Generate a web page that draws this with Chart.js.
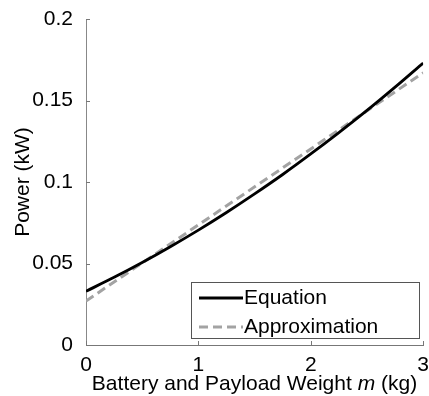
<!DOCTYPE html>
<html>
<head>
<meta charset="utf-8">
<script src="https://cdn.jsdelivr.net/npm/chart.js@4"></script>
<style>
  body { margin: 0; background: #fff; }
  #wrap { width: 429px; height: 396px; }
</style>
</head>
<body>
<div id="wrap"><canvas id="c"></canvas></div>
<script>
const pesos = [0, 0.25, 0.5, 0.75, 1, 1.25, 1.5, 1.75, 2, 2.25, 2.5, 2.75, 3];
const potenciaEcuacion = [0.0330, 0.0415, 0.0506, 0.0603, 0.0705, 0.0813, 0.0927, 0.1046, 0.1172, 0.1303, 0.1439, 0.1582, 0.1730];
const pesosAprox = [0, 1, 2, 3];
const potenciaAprox = [0.0270, 0.0737, 0.1203, 0.1670];
const ticksX = [0, 1, 2, 3];
const ticksY = [0, 0.05, 0.1, 0.15, 0.2];
const etiquetasY = ["0", "0.05", "0.1", "0.15", "0.2"];

const fuente = "'Liberation Sans', Arial, sans-serif";

// ticks hacia dentro, titulo del eje x con m en cursiva y leyenda en caja
const extras = {
  id: "extras",
  afterDraw(chart) {
    const ctx = chart.ctx;
    const x = chart.scales.x, y = chart.scales.y;
    const a = chart.chartArea;
    ctx.save();
    ctx.strokeStyle = "#777";
    ctx.lineWidth = 1;
    ticksX.forEach(v => {
      const px = Math.round(x.getPixelForValue(v)) + 0.5;
      ctx.beginPath(); ctx.moveTo(px, a.bottom); ctx.lineTo(px, a.bottom - 4); ctx.stroke();
    });
    ticksY.forEach(v => {
      const py = Math.round(y.getPixelForValue(v)) + 0.5;
      ctx.beginPath(); ctx.moveTo(a.left, py); ctx.lineTo(a.left + 4, py); ctx.stroke();
    });

    // titulo eje x
    ctx.fillStyle = "#000";
    ctx.textBaseline = "alphabetic";
    const partes = [
      ["Battery and Payload Weight ", "21px " + fuente],
      ["m", "italic 21px " + fuente],
      [" (kg)", "21px " + fuente]
    ];
    let total = 0;
    partes.forEach(p => { ctx.font = p[1]; total += ctx.measureText(p[0]).width; });
    let cx = 254.5 - total / 2;
    partes.forEach(p => {
      ctx.font = p[1];
      ctx.textAlign = "left";
      ctx.fillText(p[0], cx, 390);
      cx += ctx.measureText(p[0]).width;
    });

    // leyenda
    const bx = 191, by = 282, bw = 228, bh = 56;
    ctx.fillStyle = "#fff";
    ctx.fillRect(bx, by, bw, bh);
    ctx.strokeStyle = "#555";
    ctx.lineWidth = 1;
    ctx.strokeRect(bx + 0.5, by + 0.5, bw, bh);
    chart.data.datasets.forEach((ds, i) => {
      const ly = 298 + i * 29;
      ctx.strokeStyle = ds.borderColor;
      ctx.lineWidth = ds.borderWidth;
      ctx.setLineDash(ds.borderDash || []);
      ctx.beginPath(); ctx.moveTo(199, ly); ctx.lineTo(243, ly); ctx.stroke();
      ctx.setLineDash([]);
      ctx.fillStyle = "#000";
      ctx.font = "21px " + fuente;
      ctx.textAlign = "left";
      ctx.textBaseline = "middle";
      ctx.fillText(ds.label, 244, ly);
    });
    ctx.restore();
  }
};

new Chart(document.getElementById("c"), {
  type: "line",
  data: {
    datasets: [
      {
        label: "Equation",
        data: pesos.map((p, i) => ({ x: p, y: potenciaEcuacion[i] })),
        borderColor: "#000",
        borderWidth: 2.8,
        pointRadius: 0,
        cubicInterpolationMode: "monotone"
      },
      {
        label: "Approximation",
        data: pesosAprox.map((p, i) => ({ x: p, y: potenciaAprox[i] })),
        borderColor: "#a3a3a3",
        borderWidth: 3,
        borderDash: [9, 5],
        pointRadius: 0
      }
    ]
  },
  options: {
    responsive: true,
    maintainAspectRatio: false,
    animation: false,
    layout: { padding: { top: 19, right: 4, left: 0, bottom: 0 } },
    plugins: { legend: { display: false }, tooltip: { enabled: false } },
    scales: {
      x: {
        type: "linear",
        min: 0, max: 3,
        afterBuildTicks: s => { s.ticks = ticksX.map(v => ({ value: v })); },
        afterFit: s => { s.height = 51; },
        grid: { display: false },
        border: { display: true, color: "#777", width: 1 },
        ticks: {
          color: "#000",
          font: { size: 21, family: fuente },
          padding: 0,
          maxRotation: 0,
          callback: v => String(v)
        }
      },
      y: {
        min: 0, max: 0.2,
        afterBuildTicks: s => { s.ticks = ticksY.map(v => ({ value: v })); },
        afterFit: s => { s.width = 86; },
        grid: { display: false },
        border: { display: true, color: "#888", width: 1 },
        title: {
          display: true,
          text: "Power (kW)",
          color: "#000",
          font: { size: 21, family: fuente },
          padding: { top: 11, bottom: 0 }
        },
        ticks: {
          color: "#000",
          font: { size: 21, family: fuente },
          padding: 5,
          callback: (v, i) => etiquetasY[i]
        }
      }
    }
  },
  plugins: [extras]
});
</script>
</body>
</html>
